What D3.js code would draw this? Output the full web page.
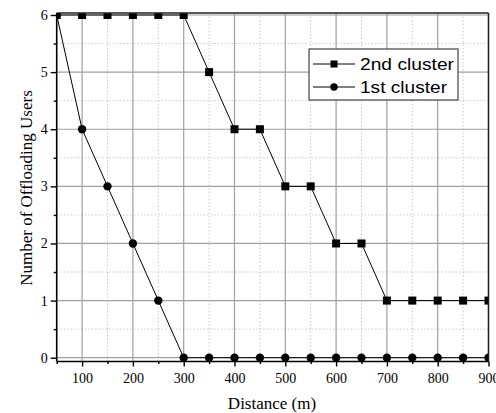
<!DOCTYPE html>
<html><head><meta charset="utf-8">
<script src="https://cdn.jsdelivr.net/npm/d3@7"></script>
<style>body{margin:0;background:#fff}svg{display:block}</style>
</head><body><svg id="c" width="496" height="413"></svg>
<script>
const distances = [50,100,150,200,250,300,350,400,450,500,550,600,650,700,750,800,850,900];
const cluster2 = [6,6,6,6,6,6,5,4,4,3,3,2,2,1,1,1,1,1];
const cluster1 = [6,4,3,2,1,0,0,0,0,0,0,0,0,0,0,0,0,0];
const xTicks = [100,200,300,400,500,600,700,800,900];
const xMinor = [50,150,250,350,450,550,650,750,850];
const yTicks = [0,1,2,3,4,5,6];
const yMinor = [0.5,1.5,2.5,3.5,4.5,5.5];
const seriesNames = ["2nd cluster","1st cluster"];

const svg = d3.select("#c");
const L = 56.7, R = 488.5, T = 13, B = 361.5;
const x = d3.scaleLinear().domain([50,900]).range([L,R]);
const y = d3.scaleLinear().domain([0,6]).range([357.7,15]);

// grid
const g = svg.append("g");
g.selectAll(".vmin").data(xMinor).join("line")
  .attr("x1",d=>x(d)).attr("x2",d=>x(d)).attr("y1",T).attr("y2",B)
  .attr("stroke","#c8c8c8").attr("stroke-dasharray","1.5,2");
g.selectAll(".hmin").data(yMinor).join("line")
  .attr("x1",L).attr("x2",R).attr("y1",d=>y(d)).attr("y2",d=>y(d))
  .attr("stroke","#c8c8c8").attr("stroke-dasharray","1.5,2");
g.selectAll(".vmaj").data(xTicks).join("line")
  .attr("x1",d=>x(d)).attr("x2",d=>x(d)).attr("y1",T).attr("y2",B)
  .attr("stroke","#a0a0a0").attr("stroke-width",1.2);
g.selectAll(".hmaj").data(yTicks).join("line")
  .attr("x1",L).attr("x2",R).attr("y1",d=>y(d)).attr("y2",d=>y(d))
  .attr("stroke","#a0a0a0").attr("stroke-width",1.2);

// series
svg.append("defs").append("clipPath").attr("id","clip").append("rect")
  .attr("x",L).attr("y",T).attr("width",R-L).attr("height",B-T+2);
const plot = svg.append("g").attr("clip-path","url(#clip)");
const line = d3.line().x((d,i)=>x(distances[i])).y(d=>y(d));
[cluster2, cluster1].forEach((s)=>{
  plot.append("path").attr("d",line(s)).attr("fill","none").attr("stroke","#000").attr("stroke-width",1);
});
plot.selectAll(".sq").data(cluster2).join("rect")
  .attr("x",(d,i)=>x(distances[i])-4).attr("y",d=>y(d)-4).attr("width",8).attr("height",8).attr("fill","#000");
plot.selectAll(".ci").data(cluster1).join("circle")
  .attr("cx",(d,i)=>x(distances[i])).attr("cy",d=>y(d)).attr("r",4.2).attr("fill","#000");

// frame
svg.append("line").attr("x1",L).attr("x2",R).attr("y1",T).attr("y2",T).attr("stroke","#222").attr("stroke-width",1.5);
svg.append("line").attr("x1",R).attr("x2",R).attr("y1",T).attr("y2",B).attr("stroke","#222").attr("stroke-width",1.5);

// axes
const xAxis = svg.append("g").attr("transform",`translate(0,${B})`)
  .call(d3.axisBottom(x).tickValues(xTicks).tickSize(5).tickPadding(7).tickFormat(d3.format("d")));
const xMin = svg.append("g").attr("transform",`translate(0,${B})`)
  .call(d3.axisBottom(x).tickValues(xMinor).tickSize(2.5).tickFormat(""));
const yAxis = svg.append("g").attr("transform",`translate(${L},0)`)
  .call(d3.axisLeft(y).tickValues(yTicks).tickSize(6).tickPadding(3).tickFormat(d3.format("d")));
const yMin = svg.append("g").attr("transform",`translate(${L},0)`)
  .call(d3.axisLeft(y).tickValues(yMinor).tickSize(3).tickFormat(""));
[xAxis,xMin,yAxis,yMin].forEach(a=>{
  a.select(".domain").attr("stroke","#000").attr("stroke-width",1.6);
  a.selectAll(".tick line").attr("stroke","#000").attr("stroke-width",1.4);
  a.selectAll("text").attr("font-family","'Liberation Serif', serif").attr("font-size",14).attr("fill","#000");
});
xMin.select(".domain").remove(); yMin.select(".domain").remove();
yAxis.select(".domain").attr("d",`M0,${T}V${B}`);
xAxis.select(".domain").attr("d",`M${L},0H${R}`);

// axis titles
svg.append("text").attr("x",272).attr("y",409).attr("text-anchor","middle")
  .attr("font-family","'Liberation Serif', serif").attr("font-size",17).text("Distance (m)");
svg.append("text").attr("transform","translate(32,188) rotate(-90)").attr("text-anchor","middle")
  .attr("font-family","'Liberation Serif', serif").attr("font-size",17).text("Number of Offloading Users");

// legend
const lg = svg.append("g");
lg.append("rect").attr("x",309).attr("y",49).attr("width",149).attr("height",51)
  .attr("fill","#fff").attr("stroke","#444").attr("stroke-width",1.2);
const rows = [64, 87];
const widths = [94, 87];
seriesNames.forEach((n,i)=>{
  lg.append("line").attr("x1",313).attr("x2",355).attr("y1",rows[i]).attr("y2",rows[i]).attr("stroke","#000");
  if(i===0) lg.append("rect").attr("x",334-3.5).attr("y",rows[i]-3.5).attr("width",7).attr("height",7).attr("fill","#000");
  else lg.append("circle").attr("cx",334).attr("cy",rows[i]).attr("r",3.7).attr("fill","#000");
  lg.append("text").attr("x",360).attr("y",rows[i]+6).attr("font-family","'Liberation Sans', Arial, sans-serif")
    .attr("font-size",17).attr("textLength",widths[i]).attr("lengthAdjust","spacingAndGlyphs").text(n);
});
</script></body></html>
